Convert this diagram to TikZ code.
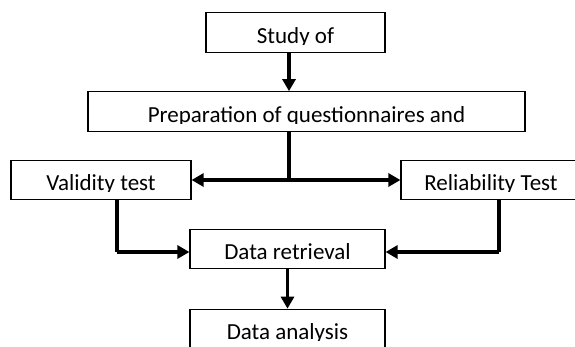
\documentclass[tikz,border=0pt]{standalone}
\usepackage{fontspec}
\setmainfont{Carlito}
\usetikzlibrary{arrows.meta}
\begin{document}
\begin{tikzpicture}[x=1pt,y=-1pt,
  box/.style={draw=black,line width=1.2pt,fill=white,inner sep=0pt,
    text height=30.5pt,text depth=9pt,font=\fontsize{23}{27}\selectfont},
  conn/.style={line width=3.5pt},
  arr/.style={line width=3.5pt,-{Triangle[length=12pt,width=13pt]}}]
\useasboundingbox (0,0) rectangle (575,346);
\node[box,minimum width=179pt] (study) at (295.5,32.5) {Study of};
\node[box,minimum width=437pt] (prep) at (306.5,111.5) {Preparation of questionnaires and};
\node[box,minimum width=180pt] (valid) at (101,180) {Validity test};
\node[box,minimum width=180pt] (rel) at (491,180) {Reliability Test};
\node[box,minimum width=195pt] (retr) at (287.5,249) {Data retrieval};
\node[box,minimum width=195pt] (anal) at (287.5,329) {Data analysis};
% the text frames cut the letters just below their base line
\foreach \n in {study,prep,valid,rel,retr,anal}
  \fill[white] ([xshift=1.8pt,yshift=-1.6pt]\n.base west) rectangle ([xshift=-1.8pt,yshift=1.8pt]\n.south east);
\coordinate (spine) at (289,180);
\coordinate (vx) at (117,252);
\coordinate (rx) at (499,252);
\draw[arr] (study.south -| spine) -- (prep.north -| spine);
\draw[conn] (prep.south -| spine) -- (spine);
\draw[arr] (spine) -- (valid.east);
\draw[arr] (spine) -- (rel.west);
\draw[conn] (valid.south -| vx) -- (vx);
\draw[arr] (vx) -- (retr.west |- vx);
\draw[conn] (rel.south -| rx) -- (rx);
\draw[arr] (rx) -- (retr.east |- rx);
\draw[arr] (retr.south) -- (anal.north);
\end{tikzpicture}
\end{document}
